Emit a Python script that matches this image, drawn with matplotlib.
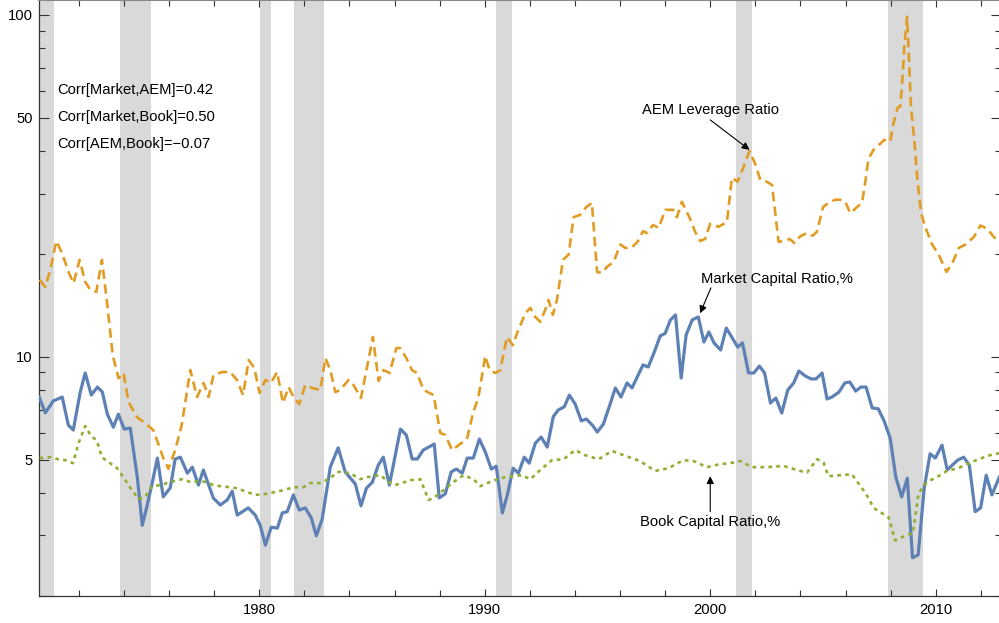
import matplotlib
matplotlib.use('Agg')
import matplotlib.pyplot as plt
from matplotlib.ticker import FixedLocator, FixedFormatter, NullFormatter

plt.rcParams['font.family'] = ['Liberation Sans', 'DejaVu Sans']

# ---------------- data ----------------
market_years = [1970.24, 1970.51, 1970.86, 1971.26, 1971.53, 1971.75, 1972.06, 1972.28, 1972.55, 1972.82,
                1973.04, 1973.26, 1973.53, 1973.75, 1974.01, 1974.28, 1974.59, 1974.81, 1975.03, 1975.25,
                1975.48, 1975.74, 1976.05, 1976.27, 1976.50, 1976.81, 1977.03, 1977.30, 1977.52, 1977.96,
                1978.27, 1978.58, 1978.80, 1979.02, 1979.51, 1979.82, 1980.04, 1980.27, 1980.53, 1980.80,
                1981.02, 1981.24, 1981.51, 1981.77, 1982.04, 1982.31, 1982.53, 1982.79, 1983.15, 1983.50,
                1983.81, 1984.26, 1984.51, 1984.75, 1985.01, 1985.28, 1985.50, 1985.77, 1986.26, 1986.52,
                1986.78, 1987.01, 1987.27, 1987.58, 1987.76, 1987.98, 1988.25, 1988.51, 1988.74, 1989.00,
                1989.22, 1989.49, 1989.76, 1990.02, 1990.29, 1990.51, 1990.78, 1991.00, 1991.26, 1991.49,
                1991.75, 1991.97, 1992.24, 1992.50, 1992.77, 1993.04, 1993.26, 1993.53, 1993.75, 1994.01,
                1994.28, 1994.50, 1994.77, 1994.99, 1995.26, 1995.57, 1995.79, 1996.04, 1996.31, 1996.53,
                1996.76, 1997.02, 1997.25, 1997.52, 1997.78, 1998.00, 1998.23, 1998.46, 1998.71, 1998.93,
                1999.20, 1999.47, 1999.72, 1999.94, 2000.17, 2000.46, 2000.71, 2000.95, 2001.22, 2001.43,
                2001.70, 2001.93, 2002.18, 2002.41, 2002.67, 2002.91, 2003.17, 2003.44, 2003.70, 2003.93,
                2004.22, 2004.47, 2004.69, 2004.96, 2005.18, 2005.40, 2005.71, 2005.97, 2006.19, 2006.45,
                2006.68, 2006.91, 2007.18, 2007.45, 2007.71, 2007.98, 2008.23, 2008.49, 2008.74, 2008.97,
                2009.22, 2009.49, 2009.75, 2009.98, 2010.28, 2010.51, 2010.74, 2010.97, 2011.24, 2011.49,
                2011.75, 2011.99, 2012.24, 2012.49, 2012.82]
market_values = [7.62, 6.85, 7.42, 7.62, 6.31, 6.10, 7.88, 8.96, 7.72, 8.15,
                 7.88, 6.79, 6.22, 6.79, 6.14, 6.18, 4.44, 3.21, 3.68, 4.27,
                 5.05, 3.89, 4.13, 5.02, 5.08, 4.56, 4.75, 4.21, 4.66, 3.86,
                 3.68, 3.81, 4.04, 3.44, 3.61, 3.44, 3.21, 2.81, 3.17, 3.15,
                 3.49, 3.52, 3.94, 3.56, 3.61, 3.37, 2.99, 3.35, 4.76, 5.41,
                 4.60, 4.24, 3.66, 4.12, 4.29, 4.82, 5.08, 4.21, 6.14, 5.90,
                 5.02, 5.02, 5.33, 5.47, 5.55, 3.86, 3.97, 4.60, 4.69, 4.56,
                 5.05, 5.05, 5.74, 5.27, 4.69, 4.78, 3.49, 3.94, 4.72, 4.56,
                 5.08, 4.88, 5.58, 5.82, 5.44, 6.68, 6.98, 7.14, 7.72, 7.27,
                 6.49, 6.57, 6.31, 6.02, 6.35, 7.30, 8.10, 7.62, 8.38, 8.10,
                 8.72, 9.46, 9.33, 10.32, 11.5, 11.7, 12.8, 13.25, 8.66, 11.58,
                 12.81, 13.07, 11.04, 11.81, 10.97, 10.46, 12.13, 11.42, 10.67, 10.97,
                 8.96, 8.96, 9.39, 8.96, 7.32, 7.57, 6.84, 7.99, 8.38, 9.08,
                 8.78, 8.61, 8.61, 8.96, 7.52, 7.62, 7.88, 8.38, 8.43, 7.93,
                 8.15, 8.15, 7.08, 7.04, 6.49, 5.78, 4.44, 3.89, 4.41, 2.58,
                 2.63, 4.13, 5.20, 5.05, 5.51, 4.66, 4.82, 4.98, 5.08, 4.82,
                 3.52, 3.61, 4.50, 3.94, 4.44]

aem_years = [1970.26, 1970.51, 1970.73, 1971.00, 1971.25, 1971.54, 1971.76, 1972.03, 1972.28, 1972.51,
             1972.77, 1973.02, 1973.25, 1973.50, 1973.76, 1973.98, 1974.20, 1974.57, 1974.94, 1975.30,
             1975.57, 1975.74, 1975.97, 1976.27, 1976.56, 1976.94, 1977.24, 1977.53, 1977.75, 1977.97,
             1978.35, 1978.71, 1979.01, 1979.28, 1979.53, 1979.78, 1980.01, 1980.27, 1980.52, 1980.79,
             1981.05, 1981.30, 1981.52, 1981.77, 1982.04, 1982.34, 1982.71, 1982.93, 1983.15, 1983.37,
             1983.59, 1983.96, 1984.18, 1984.51, 1984.78, 1985.04, 1985.29, 1985.51, 1985.78, 1986.08,
             1986.25, 1986.52, 1986.77, 1986.99, 1987.29, 1987.73, 1988.03, 1988.25, 1988.55, 1988.84,
             1989.21, 1989.48, 1989.72, 1990.02, 1990.21, 1990.47, 1990.69, 1990.98, 1991.25, 1991.45,
             1991.80, 1992.02, 1992.24, 1992.46, 1992.68, 1992.83, 1993.02, 1993.20, 1993.47, 1993.72,
             1993.94, 1994.23, 1994.50, 1994.75, 1994.98, 1995.20, 1995.45, 1995.71, 1996.01, 1996.23,
             1996.53, 1996.78, 1997.02, 1997.20, 1997.46, 1997.71, 1998.01, 1998.36, 1998.52, 1998.74,
             1999.11, 1999.33, 1999.55, 1999.77, 2000.00, 2000.37, 2000.74, 2000.96, 2001.21, 2001.48,
             2001.74, 2002.00, 2002.22, 2002.51, 2002.74, 2003.03, 2003.28, 2003.52, 2003.74, 2003.99,
             2004.29, 2004.54, 2004.73, 2005.00, 2005.25, 2005.54, 2005.76, 2005.99, 2006.21, 2006.48,
             2006.73, 2006.87, 2007.02, 2007.24, 2007.54, 2007.72, 2007.98, 2008.13, 2008.31, 2008.43,
             2008.50, 2008.61, 2008.73, 2008.84, 2008.90, 2009.05, 2009.19, 2009.35, 2009.54, 2009.84,
             2010.13, 2010.48, 2010.77, 2011.02, 2011.32, 2011.69, 2011.98, 2012.28, 2012.58, 2012.83]
aem_values = [16.78, 16.0, 17.95, 21.8, 20.1, 17.7, 16.4, 19.2, 16.55, 15.68,
              15.47, 19.2, 14.36, 10.1, 8.64, 8.96, 7.37, 6.66, 6.39, 6.10,
              5.44, 5.05, 4.70, 5.33, 6.31, 9.14, 7.62, 8.38, 7.62, 8.84,
              9.02, 9.02, 8.55, 7.72, 9.78, 9.27, 7.83, 8.55, 8.38, 9.02,
              7.32, 8.15, 7.62, 7.27, 8.26, 8.10, 7.99, 9.91, 9.14, 7.88,
              7.99, 8.55, 8.26, 7.57, 9.33, 11.42, 8.49, 9.14, 8.96, 10.6,
              10.6, 9.91, 9.14, 8.96, 7.99, 7.72, 5.98, 5.90, 5.33, 5.51,
              5.74, 6.84, 7.62, 10.05, 9.14, 8.96, 9.14, 11.42, 10.8, 11.8,
              13.4, 13.9, 13.07, 12.65, 13.7, 14.66, 13.25, 14.66, 19.2, 19.9,
              25.6, 26.0, 27.4, 28.2, 17.7, 17.6, 18.4, 18.9, 21.3, 20.8,
              20.9, 21.7, 23.3, 23.0, 24.3, 23.8, 26.9, 26.9, 25.6, 28.4,
              25.3, 23.2, 21.8, 22.1, 24.5, 24.0, 24.8, 33.4, 32.5, 36.0,
              40.0, 36.6, 32.9, 32.5, 31.8, 21.7, 21.8, 22.1, 21.5, 22.5,
              23.0, 22.6, 23.2, 27.4, 28.2, 28.8, 28.8, 28.4, 26.3, 27.3,
              28.2, 32.3, 38.0, 40.3, 42.0, 43.1, 42.6, 48.3, 53.5, 54.0,
              61.7, 80.8, 98.8, 67.7, 54.0, 43.1, 32.9, 26.35, 23.9, 21.3,
              19.9, 17.7, 19.0, 20.8, 21.3, 22.4, 24.2, 23.7, 22.4, 21.6]

book_years = [1970.26, 1970.73, 1971.10, 1971.40, 1971.74, 1971.99, 1972.28, 1972.51, 1972.80, 1973.02,
              1973.25, 1973.69, 1974.06, 1974.35, 1974.65, 1974.94, 1975.24, 1975.61, 1975.91, 1976.20,
              1976.57, 1976.94, 1977.31, 1977.61, 1977.97, 1978.27, 1978.71, 1979.01, 1979.45, 1979.82,
              1980.34, 1980.71, 1981.08, 1981.52, 1981.96, 1982.26, 1982.71, 1983.15, 1983.45, 1983.81,
              1984.18, 1984.48, 1984.78, 1985.37, 1985.73, 1986.03, 1986.70, 1987.14, 1987.51, 1987.73,
              1988.17, 1988.62, 1989.06, 1989.50, 1989.80, 1990.24, 1990.69, 1991.21, 1991.65, 1992.02,
              1992.46, 1992.98, 1993.49, 1994.01, 1994.45, 1995.05, 1995.64, 1996.15, 1996.89, 1997.55,
              1998.15, 1998.81, 1999.26, 1999.85, 2000.44, 2000.89, 2001.33, 2001.85, 2002.51, 2003.25,
              2003.84, 2004.29, 2004.73, 2005.02, 2005.24, 2005.76, 2006.28, 2006.79, 2007.02, 2007.24,
              2007.91, 2008.20, 2008.72, 2008.99, 2009.24, 2009.61, 2010.05, 2010.49, 2011.01, 2011.38,
              2011.90, 2012.41, 2012.81]
book_values = [5.05, 5.08, 5.01, 4.98, 4.88, 5.60, 6.27, 5.90, 5.67, 5.08,
               4.95, 4.72, 4.35, 4.07, 3.83, 3.89, 4.18, 4.21, 4.27, 4.32,
               4.38, 4.30, 4.32, 4.30, 4.21, 4.18, 4.15, 4.12, 4.02, 3.94,
               3.97, 4.02, 4.07, 4.15, 4.15, 4.27, 4.27, 4.41, 4.60, 4.60,
               4.50, 4.38, 4.44, 4.50, 4.30, 4.21, 4.35, 4.38, 3.81, 3.86,
               4.07, 4.30, 4.50, 4.38, 4.18, 4.30, 4.41, 4.47, 4.50, 4.38,
               4.66, 4.98, 5.01, 5.33, 5.15, 5.01, 5.30, 5.15, 4.95, 4.63,
               4.72, 4.98, 4.95, 4.75, 4.85, 4.88, 4.95, 4.75, 4.75, 4.79,
               4.66, 4.58, 5.01, 4.91, 4.47, 4.50, 4.53, 4.07, 3.86, 3.61,
               3.39, 2.90, 3.01, 3.04, 3.99, 4.30, 4.44, 4.63, 4.72, 4.85,
               5.01, 5.15, 5.22]

recession_starts = [1969.90, 1973.84, 1980.01, 1981.52, 1990.50, 2001.15, 2007.89]
recession_ends = [1970.88, 1975.20, 1980.53, 1982.88, 1991.21, 2001.85, 2009.43]

corr_labels = ['Corr[Market,AEM]=0.42', 'Corr[Market,Book]=0.50', 'Corr[AEM,Book]=\u22120.07']

x_major = [1980, 1990, 2000, 2010]
x_minor = [1972, 1974, 1976, 1978, 1982, 1984, 1986, 1988, 1992, 1994, 1996, 1998,
           2002, 2004, 2006, 2008, 2012]
y_major = [5, 10, 50, 100]
y_major_labels = ['5', '10', '50', '100']
y_minor = [2, 3, 4, 6, 7, 8, 9, 20, 30, 40, 60, 70, 80, 90]

# ---------------- figure ----------------
BLUE = '#5E81B5'
ORANGE = '#E19C24'
GREEN = '#8FB032'
FS = 10.6

fig = plt.figure(figsize=(9.99, 6.23), dpi=100)
ax = fig.add_axes([39 / 999, 27 / 623, 962 / 999, 596 / 623])
ax.set_yscale('log')
ax.set_xlim(1970.23, 2012.895)
ax.set_ylim(1.994, 110.6)

for a, b in zip(recession_starts, recession_ends):
    ax.axvspan(a, b, color='#d9d9d9', lw=0, zorder=0)

ax.plot(market_years, market_values, color=BLUE, lw=2.3, zorder=3)
ax.plot(aem_years, aem_values, color=ORANGE, lw=1.9, dashes=(3.6, 2.0), zorder=3)
ax.plot(book_years, book_values, color=GREEN, lw=1.9, dashes=(1.4, 1.6), zorder=3)

# ticks
ax.xaxis.set_major_locator(FixedLocator(x_major))
ax.xaxis.set_minor_locator(FixedLocator(x_minor))
ax.yaxis.set_major_locator(FixedLocator(y_major))
ax.yaxis.set_major_formatter(FixedFormatter(y_major_labels))
ax.yaxis.set_minor_locator(FixedLocator(y_minor))
ax.yaxis.set_minor_formatter(NullFormatter())
ax.tick_params(which='both', direction='in', top=True, right=True, colors='#333333',
               labelcolor='black', labelsize=FS, width=0.8)
ax.tick_params(axis='y', which='major', length=7.5, pad=4.5)
ax.tick_params(axis='y', which='minor', length=4)
ax.tick_params(axis='x', which='major', length=5, pad=5)
ax.tick_params(axis='x', which='minor', length=4.5)
for s in ax.spines.values():
    s.set_color('#333333')
    s.set_linewidth(0.9)
ax.spines['top'].set_color('#888888')
ax.spines['top'].set_linewidth(1.5)

# correlation text
corr_y = [60.4, 50.3, 42.0]
for lab, yv in zip(corr_labels, corr_y):
    ax.text(1971.04, yv, lab, fontsize=FS, ha='left', va='center', zorder=5)

arrow = dict(arrowstyle='-|>', color='black', lw=0.8, mutation_scale=11,
             shrinkA=0, shrinkB=0)
ax.annotate('', xy=(2001.74, 40.3), xytext=(2000.0, 49.3), arrowprops=arrow, zorder=5)
ax.text(2000.0, 52.8, 'AEM Leverage Ratio', fontsize=FS, ha='center', va='center', zorder=5)

ax.annotate('', xy=(1999.55, 13.4), xytext=(2000.03, 15.9), arrowprops=arrow, zorder=5)
ax.text(2002.97, 16.85, 'Market Capital Ratio,%', fontsize=FS, ha='center', va='center', zorder=5)

ax.annotate('', xy=(2000.0, 4.47), xytext=(2000.0, 3.52), arrowprops=arrow, zorder=5)
ax.text(2000.0, 3.29, 'Book Capital Ratio,%', fontsize=FS, ha='center', va='center', zorder=5)

fig.savefig('out.png', dpi=100)
